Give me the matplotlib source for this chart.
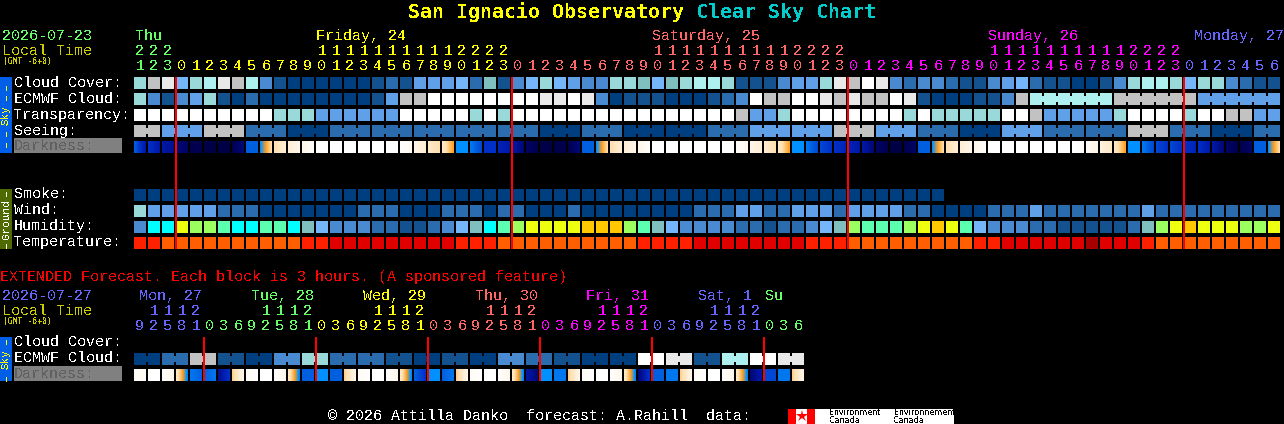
import numpy as np
import matplotlib
matplotlib.use("Agg")
import matplotlib.pyplot as plt
from matplotlib.colors import LinearSegmentedColormap

plt.rcParams['text.antialiased'] = False
plt.rcParams['font.family'] = ['Liberation Mono', 'DejaVu Sans Mono']

# palette for the block rows
level_colors = ['#003F7F', '#13528F', '#2B6CAE', '#4A8AD0', '#5FA0E8', '#75B5FA',
                '#7FBFBF', '#99D9D9', '#AEF0F0', '#C2C2C2', '#E9E9E9', '#FFFFFF',
                '#00FFFF', '#5CFFB0', '#9CFF60', '#EEFF10', '#FFC800',
                '#FF5F00', '#FF2000', '#E00000', '#A80000']
dark_colors = ['#FFFFFF', '#FFF2DE', '#FFDFB0', '#FFA020', '#0090FF', '#0060E0',
               '#0030C8', '#0018A8', '#000878', '#000050', '#000040']
dark_map = LinearSegmentedColormap.from_list('dark', dark_colors)

# main chart, one value per hour
cloud = [7,9,10,5,7,8,10,9,8,3, 1,0,0,0,0,0,0,1,2,1, 4,4,4,5,2,6,1,3,5,7,
         5,4,3,3,7,7,6,5,6,7, 8,8,7,1,1,1,3,4,4,7, 10,9,11,10,3,2,3,3,2,1,
         1,3,4,5,2,1,1,0,0,1, 3,7,8,8,7,5,7,7,3,2, 1,1]
ecmwf = [7,3,1,3,4,7,1,0,2,0, 0,0,0,0,0,0,0,1,4,9, 9,11,11,11,11,11,11,11,11,10,
         10,11,10,3,0,1,1,1,0,0, 0,1,2,3,11,9,9,11,11,10, 9,10,9,9,11,10,1,0,0,0,
         1,1,3,9,8,8,8,8,8,8, 9,9,9,9,9,9,4,4,4,4, 4,4]
transparency = [11,11,11,11,11,11,11,11,11,11, 7,7,7,4,4,4,4,4,4,11, 11,11,11,11,7,11,7,11,11,11,
                11,11,11,11,11,11,11,11,11,11, 11,11,11,9,4,4,7,11,11,11, 11,11,11,11,11,7,11,7,7,7,
                7,7,11,11,9,4,4,4,4,4, 7,11,11,11,11,7,11,11,9,9, 4,4]
seeing = [9,9,4,4,4,9,9,9,2,2, 2,0,0,0,2,2,2,2,2,2, 2,2,2,2,2,2,2,2,2,0,
          0,0,2,2,2,0,0,0,0,0, 0,2,2,2,4,4,4,4,4,4, 9,9,9,4,4,4,2,2,2,0,
          0,0,4,4,4,2,2,2,2,2, 2,9,9,9,2,2,2,0,0,0, 2,2]
dark_left = [5,6,7,8,9,9.5,9.5,9,5,4, 2,1.2,.7,0,0,0,0,0,0,.1, .8,1.5,1.5,4,4.5,6,6.5,7,8.5,9.5,
             9.5,9,5,4,2,1.2,.7,0,0,0, 0,0,0,.2,.8,1.3,1.5,4,4.5,5.5, 6,6.5,7,8.5,9.5,9,5,4,2,1.2,
             .7,0,0,0,0,0,0,0,.3,1, 1.5,4,4.5,5.5,5.5,6,6,7,8.5,9, 5,4]
dark_right = [7,7,7.5,8.5,9,9.5,9.5,8,5,2, 1.2,.7,.1,0,0,0,0,0,0,.4, 1.3,2,3,4,5.5,6,7,8,9,9.5,
              9,8,5,2,1.2,.7,.1,0,0,0, 0,0,0,.4,1.2,2,3,4,5.5,6, 6.5,7,8,9,9.5,8.5,5,2,1.2,.7,
              .1,0,0,0,0,0,0,.2,.8,1.5, 3,4,5.5,6,6,6.5,7,8,9,8.5, 5,2]
smoke = [0]*58
wind = [7,4,4,4,4,4,2,2,2,0, 0,0,0,0,0,0,2,2,2,0, 0,0,2,2,2,0,2,2,0,0,
        0,2,0,0,0,0,0,0,0,0, 2,2,2,4,4,2,2,4,4,4, 2,4,4,4,4,2,2,0,0,0,
        0,2,2,2,4,2,2,2,2,2, 2,2,4,2,2,2,2,2,2,2, 2,2]
humidity = [3,12,12,15,14,14,13,12,12,13, 13,12,6,5,3,3,3,2,2,1, 1,2,3,5,6,12,13,14,15,15,
            15,15,16,16,16,14,13,6,5,3, 3,3,3,2,2,1,2,2,3,5, 6,14,13,13,13,14,15,16,15,13,
            5,3,3,3,2,2,1,1,1,1, 1,2,6,14,15,16,15,15,15,14, 14,15]
temperature = [18,18,17,17,17,17,17,17,17,17, 17,17,18,18,19,19,19,19,19,19, 19,19,19,18,18,18,17,17,17,17,
               17,17,17,17,17,17,18,18,18,18, 19,19,19,19,19,19,19,19,18,18, 18,17,17,17,17,17,17,17,17,17,
               18,18,19,19,19,19,19,19,20,19, 19,19,18,17,17,17,17,17,17,17, 17,17]

# extended forecast, one value per 3 hours
ext_ecmwf = [0,0,2,2,9,9,1,1,0,0, 3,3,7,7,2,2,2,2,1,1, 0,0,1,1,0,0,3,3,2,2,
             1,1,0,0,0,0,11,11,10,10, 1,1,8,8,11,11,10,10]
ext_left = [.3,0,0,1.5,4.5,5,7.5,2.3,.3,0, 0,1.5,5,4,5,2.3,.3,0,0,1.5, 5,4,5,2.3,.3,0,0,1.5,7,4,
            4.5,2.3,.3,0,0,1.5,8,5,4.5,2.3, .3,0,0,1.5,8,5.5,4.5,2.3]
ext_right = [.3,0,.7,4.2,5,4.5,6,.7,0,0, .7,4.2,5,4,5,.7,0,0,.7,4.2, 6,4,4.5,.7,0,0,.7,4.2,8,4,
             4.5,.7,0,0,.7,4.2,6,5,4.5,.7, 0,0,.7,4.2,7,5.5,4.5,.7]

hours = [21,22,23] + list(range(24))*3 + list(range(7))
hour_colors = ['#66FF66']*3 + ['#FFFF00']*24 + ['#FF6666']*24 + ['#FF00FF']*24 + ['#6666FF']*7
ext_hours = ([9,12,15,18,21] + [0,3,6,9,12,15,18,21]*5 + [0,3,6])
ext_colors = (['#6666FF']*5 + ['#66FF66']*8 + ['#FFFF00']*8 + ['#FF6666']*8
              + ['#FF00FF']*8 + ['#6666FF']*8 + ['#66FF66']*3)

day_names = ['Thu', 'Friday, 24', 'Saturday, 25', 'Sunday, 26', 'Monday, 27']
day_x = [135, 316, 652, 988, 1194]
day_colors = ['#66FF66', '#FFFF00', '#FF6666', '#FF00FF', '#6666FF']
ext_days = ['Mon, 27', 'Tue, 28', 'Wed, 29', 'Thu, 30', 'Fri, 31', 'Sat, 1', 'Su']
ext_day_x = [139, 251, 363, 475, 586, 698, 765]
ext_day_colors = ['#6666FF', '#66FF66', '#FFFF00', '#FF6666', '#FF00FF', '#6666FF', '#66FF66']

fig = plt.figure(figsize=(12.84, 4.24), dpi=100, facecolor='black')
ax = fig.add_axes([0, 0, 1, 1])
ax.set_facecolor('black')

LEFT = 134
PITCH = 14
CELL = 12


def px(n):
    return n * 0.72


def label(x, y, s, color='white', size=15, **kw):
    ax.text(x, y, s, color=color, fontsize=px(size), va='baseline', **kw)


def blocks(values, top, joined=None):
    xs = LEFT + PITCH * np.arange(len(values))
    cols = [level_colors[v] for v in values]
    ax.bar(xs, CELL, width=CELL, bottom=top, color=cols, align='edge', linewidth=0, antialiased=False)
    if joined:
        for i in range(len(values) - 1):
            if values[i] == values[i + 1] and joined(i):
                ax.bar(xs[i] + CELL, 6, width=PITCH - CELL, bottom=top + 3, color=cols[i],
                       align='edge', linewidth=0, antialiased=False)


def darkness(lefts, rights, top):
    for i, (a, b) in enumerate(zip(lefts, rights)):
        x = LEFT + PITCH * i
        ax.imshow(np.linspace(a, b, CELL)[None, :], cmap=dark_map, vmin=0, vmax=10, aspect='auto',
                  extent=(x, x + CELL, top + CELL, top), interpolation='nearest')


def hour_row(vals, cols, y):
    for i, (h, c) in enumerate(zip(vals, cols)):
        x = LEFT + 6 + PITCH * i
        ax.text(x, y, str(h % 10), color=c, fontsize=px(15), ha='center', va='baseline')
        if h >= 10:
            ax.text(x, y - 15, str(h // 10), color=c, fontsize=px(15), ha='center', va='baseline')


# title
ax.text(408, 18, 'San Ignacio Observatory', color='#FFFF00', fontsize=px(20), weight='bold', va='baseline',
        family='DejaVu Sans Mono')
ax.text(696, 18, 'Clear Sky Chart', color='#00CCCC', fontsize=px(20), weight='bold', va='baseline',
        family='DejaVu Sans Mono')

# header main chart
label(2, 40, '2026-07-23', '#66FF66')
label(2, 55, 'Local Time', '#CCCC00')
label(3, 64, '(GMT -6+0)', '#CCCC00', size=8, family='DejaVu Sans Mono')
for name, x, c in zip(day_names, day_x, day_colors):
    label(x, 40, name, c)
hour_row(hours, hour_colors, 70)

# side bars
ax.bar(0, 76, width=12, bottom=77, color='#005FE6', align='edge', linewidth=0)
ax.bar(0, 60, width=12, bottom=189, color='#4F6A00', align='edge', linewidth=0)
ax.bar(0, 44, width=12, bottom=337, color='#005FE6', align='edge', linewidth=0)
for y, s, c, size in [(87, '\u2013', '#FFFF00', 11), (97, '\u2013', '#FFFF00', 11), (115, 'Sky', '#FFFF00', 11),
                      (133, '\u2013', '#FFFF00', 11), (144, '\u2013', '#FFFF00', 11),
                      (193, '\u2013', 'white', 11), (219, 'Ground', 'white', 11), (245, '\u2013', 'white', 11),
                      (341, '\u2013', '#FFFF00', 11), (359, 'Sky', '#FFFF00', 11), (378, '\u2013', '#FFFF00', 11)]:
    ax.text(6, y, s, color=c, fontsize=px(size), rotation=90, ha='center', va='center')

# main rows
blocks(cloud, 77)
blocks(ecmwf, 93, joined=lambda i: i >= 64)
blocks(transparency, 109)
blocks(seeing, 125, joined=lambda i: (i + 1) % 3 != 2)
darkness(dark_left, dark_right, 141)
blocks(smoke, 189)
blocks(wind, 205)
blocks(humidity, 221)
blocks(temperature, 237)

for y, s in [(87, 'Cloud Cover:'), (103, 'ECMWF Cloud:'), (119, 'Transparency:'), (135, 'Seeing:'),
             (198, 'Smoke:'), (214, 'Wind:'), (230, 'Humidity:'), (246, 'Temperature:')]:
    label(14, y, s)
ax.bar(14, 15, width=108, bottom=138, color='#808080', align='edge', linewidth=0)
label(14, 150, 'Darkness:', '#606060')

for i in range(4):
    x = LEFT + PITCH * (3 + 24 * i)
    ax.bar(x, 172, width=2, bottom=77, color='#FF0000', align='center', linewidth=0, zorder=5)

# extended forecast
label(0, 281, 'EXTENDED Forecast. Each block is 3 hours. (A sponsored feature)', '#FF0000')
label(2, 300, '2026-07-27', '#6666FF')
label(2, 315, 'Local Time', '#CCCC00')
label(3, 324, '(GMT -6+0)', '#CCCC00', size=8, family='DejaVu Sans Mono')
for name, x, c in zip(ext_days, ext_day_x, ext_day_colors):
    label(x, 300, name, c)
hour_row(ext_hours, ext_colors, 330)

blocks(ext_ecmwf, 353, joined=lambda i: i % 2 == 0)
darkness(ext_left, ext_right, 369)
label(14, 346, 'Cloud Cover:')
label(14, 362, 'ECMWF Cloud:')
ax.bar(14, 15, width=108, bottom=366, color='#808080', align='edge', linewidth=0)
label(14, 378, 'Darkness:', '#606060')
for i in range(6):
    x = LEFT + PITCH * (5 + 8 * i)
    ax.bar(x, 44, width=2, bottom=337, color='#FF0000', align='center', linewidth=0, zorder=5)

# footer with the logo strip
label(328, 420, '\u00a9 2026 Attilla Danko  forecast: A.Rahill  data:')
ax.bar(788, 15, width=166, bottom=409, color='white', align='edge', linewidth=0)
ax.bar(788, 15, width=8, bottom=409, color='#FF0000', align='edge', linewidth=0)
ax.bar(807, 15, width=8, bottom=409, color='#FF0000', align='edge', linewidth=0)
ax.plot([801.5], [416], marker='*', color='#FF0000', markersize=9, markeredgewidth=0)
for x, s in [(829, 'Environment'), (894, 'Environnement')]:
    ax.text(x, 415, s, color='black', fontsize=px(8), family='DejaVu Sans', va='baseline')
    ax.text(x, 423, 'Canada', color='black', fontsize=px(8), family='DejaVu Sans', va='baseline')

ax.set_xlim(0, 1284)
ax.set_ylim(424, 0)
ax.axis('off')
fig.savefig('out.png', dpi=100, facecolor='black')
